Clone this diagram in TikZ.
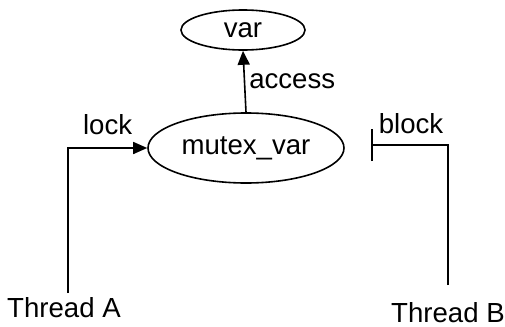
\documentclass[tikz,border=0pt]{standalone}
\usepackage{fontspec}
\setmainfont{Liberation Sans}
\usetikzlibrary{shapes.geometric,arrows.meta}
\tikzset{
  state/.style={ellipse,draw,line width=0.8pt,inner sep=0pt},
  txt/.style={inner sep=0pt,font=\fontsize{13.8}{16}\selectfont},
  conn/.style={line width=0.8pt}
}
\begin{document}
\begin{tikzpicture}[x=0.5pt,y=-0.5pt]
  \useasboundingbox (0,0) rectangle (505,327);

  % zustaende
  \node[state,txt,minimum width=62pt,minimum height=20pt] (var) at (243,30) {var};
  \node[state,txt,minimum width=98pt,minimum height=35pt] (mutex) at (246,148) {mutex\_var};

  % threads
  \node[txt] (ta) at (64,308) {Thread A};
  \node[txt] (tb) at (448,313) {Thread B};
  \coordinate (la) at (68,293);
  \coordinate (lb) at (448,285);
  \coordinate (bk) at (371,145);

  % kanten
  \draw[conn,-{Triangle[length=7pt,width=6pt]}] (mutex.north) -- (var.south)
    node[txt,midway,right=2pt] {access};
  \draw[conn,-{Triangle[length=7pt,width=6pt]}] (la) |- (mutex.west)
    node[txt,pos=0.75,above=6pt] {lock};
  \draw[conn,-{Bar[width=16pt]}] (lb) |- (bk)
    node[txt,at end,anchor=south west,xshift=3.5pt,yshift=5pt] {block};
\end{tikzpicture}
\end{document}
